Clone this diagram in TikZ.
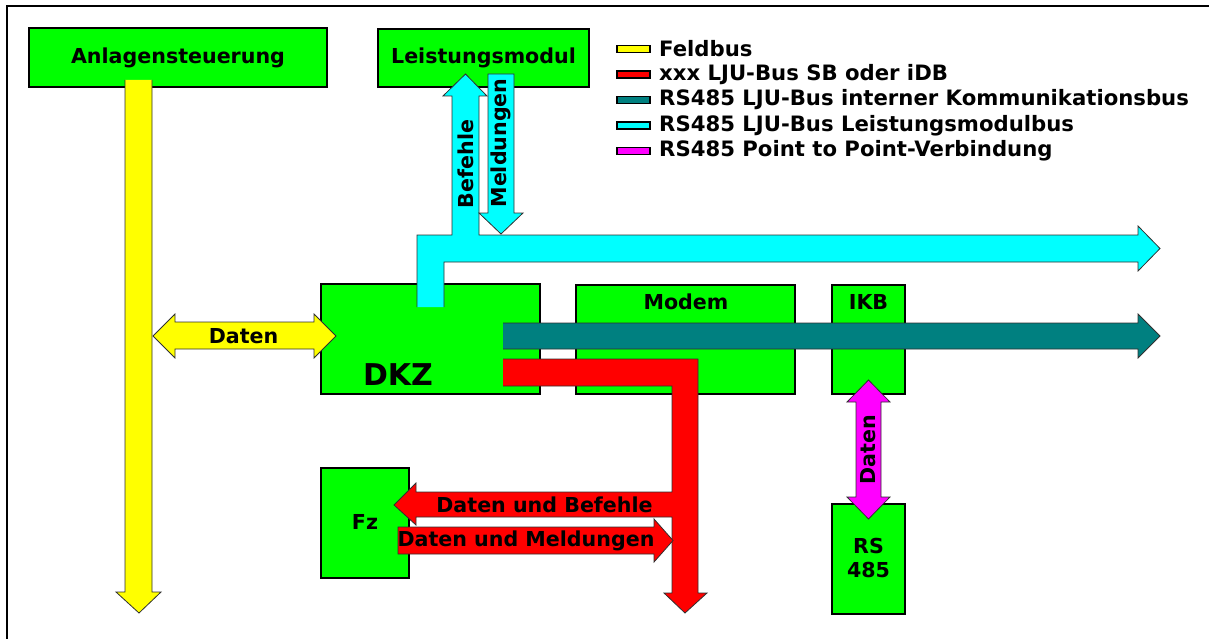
\documentclass[tikz,border=0pt]{standalone}
\usepackage{fontspec}
\setmainfont{DejaVu Sans}
\definecolor{BoxGreen}{HTML}{00FF00}
\definecolor{FeldYellow}{HTML}{FFFF00}
\definecolor{SBRed}{HTML}{FF0000}
\definecolor{IKTeal}{HTML}{008080}
\definecolor{LMCyan}{HTML}{00FFFF}
\definecolor{PtpMagenta}{HTML}{FF00FF}
\definecolor{EdgeGrey}{HTML}{303030}
\tikzset{
  unit/.style={draw=black, line width=1.2pt, fill=BoxGreen, inner sep=0pt, outer sep=0pt},
  bus/.style={fill=#1, draw=EdgeGrey, line width=0.8pt},
  lab/.style={font=\bfseries\fontsize{20.6}{23.5}\selectfont, inner sep=0pt},
  leglab/.style={font=\bfseries\fontsize{21.2}{24}\selectfont, inner sep=0pt, anchor=west},
  swatch/.style={fill=#1, draw=black, line width=1.2pt},
}
\begin{document}
\begin{tikzpicture}[x=1pt,y=-1pt]
      \useasboundingbox (0,0) rectangle (1209,639);
      % frame
      \draw[line width=2pt] (7,639) -- (7,6) -- (1209,6);

      % units
      \node[unit, minimum width=298pt, minimum height=59pt, lab] (anl) at (178,57.5) {Anlagensteuerung};
      \node[unit, minimum width=211pt, minimum height=58pt, lab] (lm) at (483.5,58) {Leistungsmodul};
      \node[unit, minimum width=219pt, minimum height=110pt] (dkz) at (430.5,339) {};
      \node[unit, minimum width=219pt, minimum height=109pt] (modem) at (685.5,339.5) {};
      \node[unit, minimum width=73pt, minimum height=109pt] (ikb) at (868.5,339.5) {};
      \node[unit, minimum width=73pt, minimum height=110pt] (rs) at (868.5,559) {};
      \node[unit, minimum width=88pt, minimum height=110pt] (fz) at (365,523) {};

      % Feldbus
      \path[bus=FeldYellow] (125,80) -- (125,592) -- (116,592) -- (139,613) -- (161,592) -- (152,592) -- (152,80);
      \path[bus=FeldYellow] (153,336) -- (175,314) -- (175,322) -- (314,322) -- (314,314) -- (336,336)
        -- (314,358) -- (314,349) -- (175,349) -- (175,358) -- cycle;

      % Leistungsmodulbus
      \path[bus=LMCyan] (444,307) -- (444,262) -- (1138,262) -- (1138,271) -- (1160,248.5) -- (1138,226)
        -- (1138,235) -- (479,235) -- (479,96) -- (487,96) -- (465.5,74) -- (443,96) -- (452,96)
        -- (452,235) -- (417,235) -- (417,307);
      \path[bus=LMCyan] (488,74) -- (514,74) -- (514,213) -- (523,213) -- (501,234) -- (479,213) -- (488,213) -- cycle;

      % interner Kommunikationsbus
      \path[bus=IKTeal] (503,323) -- (1138,323) -- (1138,314) -- (1160,336) -- (1138,358) -- (1138,349) -- (503,349);

      % LJU-Bus SB
      \path[bus=SBRed] (503,359) -- (698,359) -- (698,593) -- (707,593) -- (685,613) -- (664,593) -- (672,593)
        -- (672,517) -- (416,517) -- (416,525) -- (394,505) -- (416,483) -- (416,492) -- (672,492)
        -- (672,386) -- (503,386);
      \path[bus=SBRed] (398,527) -- (654,527) -- (654,519) -- (673,540.5) -- (654,562) -- (654,554) -- (398,554) -- cycle;

      % Point to Point
      \path[bus=PtpMagenta] (868.5,380) -- (890,402) -- (881,402) -- (881,497) -- (890,497) -- (868.5,519)
        -- (847,497) -- (856,497) -- (856,402) -- (847,402) -- cycle;

      % labels
      \node[lab, font=\bfseries\fontsize{30}{34}\selectfont] (dkzlab) at (398,375) {DKZ};
      \node[lab] (modemlab) at (686,302) {Modem};
      \node[lab] (ikblab) at (868.5,302) {IKB};
      \node[lab, align=center] (rslab) at (868.5,558) {RS\\485};
      \node[lab] (fzlab) at (365,522) {Fz};
      \node[lab] (datenfeld) at (243.5,336) {Daten};
      \node[lab, rotate=90] (befehle) at (465.5,164) {Befehle};
      \node[lab, rotate=90] (meldungen) at (501,143) {Meldungen};
      \node[lab, rotate=90] (datenptp) at (868.5,450) {Daten};
      \node[lab] (datbef) at (544.5,504.5) {Daten und Befehle};
      \node[lab] (datmeld) at (526,540.5) {Daten und Meldungen};

      % legend
      \foreach \y/\col/\lab [count=\i] in {
      49/FeldYellow/{Feldbus},
      74.5/SBRed/{xxx LJU-Bus SB oder iDB},
      100/IKTeal/{RS485 LJU-Bus interner Kommunikationsbus},
      125.5/LMCyan/{RS485 LJU-Bus Leistungsmodulbus},
      151/PtpMagenta/{RS485 Point to Point-Verbindung}}
      {
      \path[swatch=\col] (617,\y-3.5) rectangle (650,\y+3.5);
      \node[leglab] (leg\i) at (659,\y) {\lab};
      }
    \end{tikzpicture}
\end{document}
